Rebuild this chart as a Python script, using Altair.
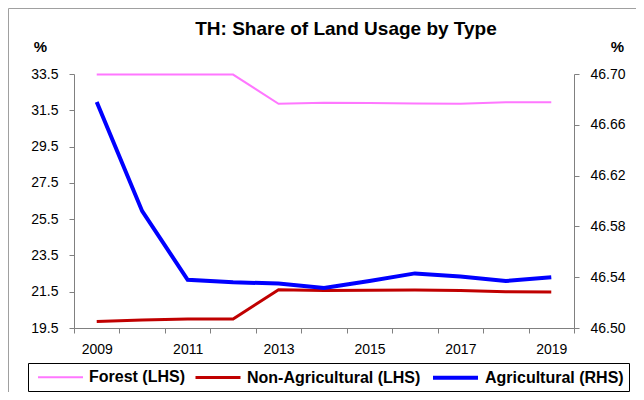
import altair as alt
import pandas as pd

years = list(range(2009, 2020))
forest = [33.47, 33.47, 33.47, 33.47, 31.86, 31.91, 31.90, 31.88, 31.86, 31.94, 31.94]
non_ag = [19.86, 19.94, 20.00, 20.00, 21.61, 21.57, 21.58, 21.59, 21.57, 21.50, 21.48]
agri = [46.678, 46.592, 46.538, 46.536, 46.535, 46.5315, 46.537, 46.543, 46.5405, 46.537, 46.540]

series_names = ["Forest (LHS)", "Non-Agricultural (LHS)", "Agricultural (RHS)"]
colors = ["#FF77FF", "#C00000", "#0000FF"]
widths = [2, 4, 6]
left_ticks = [19.5, 21.5, 23.5, 25.5, 27.5, 29.5, 31.5, 33.5]
right_ticks = [46.50, 46.54, 46.58, 46.62, 46.66, 46.70]
title_text = "TH: Share of Land Usage by Type"

left_df = pd.DataFrame({
    "year": years * 2,
    "value": forest + non_ag,
    "series": [series_names[0]] * len(years) + [series_names[1]] * len(years),
})
right_df = pd.DataFrame({"year": years, "value": agri, "series": [series_names[2]] * len(years)})

FONT = "Liberation Sans"

x_enc = alt.X(
    "year:O",
    scale=alt.Scale(type="band", paddingInner=0, paddingOuter=0),
    bandPosition=0.5,
    axis=alt.Axis(
        title=None, tickBand="extent", labelAngle=0, labelPadding=9,
        labelExpr="datum.value % 2 == 1 ? datum.label : ''",
    ),
)

legend = alt.Legend(
    title=None, orient="none", legendX=-46, legendY=289, direction="horizontal",
    strokeColor="black", fillColor="white", padding=5, cornerRadius=0,
    symbolType="M-3,0H3", symbolSize=225, symbolOffset=19, labelFont=FONT,
    labelFontWeight="bold", labelFontSize=16, labelOffset=20, columnPadding=4,
    labelLimit=400, labelColor="black",
)
color_enc = alt.Color("series:N", scale=alt.Scale(domain=series_names, range=colors), legend=legend)
sw_enc = alt.StrokeWidth("series:N", scale=alt.Scale(domain=series_names, range=widths), legend=legend)

left = alt.Chart(left_df).mark_line().encode(
    x=x_enc,
    y=alt.Y("value:Q", scale=alt.Scale(domain=[19.5, 33.5], nice=False, zero=False),
            axis=alt.Axis(orient="left", values=left_ticks, format=".1f", title="%",
                          titleAngle=0, titleX=-34, titleY=-28, titleAlign="center",
                          titleBaseline="middle", titleFontSize=15, titleFontWeight="bold",
                          titleFont=FONT, labelPadding=11)),
    color=color_enc,
    strokeWidth=sw_enc,
)

right = alt.Chart(right_df).mark_line().encode(
    x=x_enc,
    y=alt.Y("value:Q", scale=alt.Scale(domain=[46.5, 46.7], nice=False, zero=False),
            axis=alt.Axis(orient="right", values=right_ticks, format=".2f", title="%",
                          titleAngle=0, titleX=43, titleY=-28, titleAlign="center",
                          titleBaseline="middle", titleFontSize=15, titleFontWeight="bold",
                          titleFont=FONT, labelPadding=11)),
    color=color_enc,
    strokeWidth=sw_enc,
)

one = pd.DataFrame({"a": [0]})
border = alt.Chart(one).mark_rect(
    fillOpacity=0, stroke="#A0A0A0", strokeWidth=1
).encode(x=alt.value(-65.5), x2=alt.value(620), y=alt.value(-65.5), y2=alt.value(360))

title = alt.Chart(one).mark_text(
    text=title_text, font=FONT, fontSize=19, fontWeight="bold", color="black",
    align="center", baseline="alphabetic",
).encode(x=alt.value(272), y=alt.value(-39))

chart = alt.layer(border, title, left, right).resolve_scale(y="independent").properties(
    width=500, height=254,
    autosize=alt.AutoSizeParams(type="none"),
    padding={"left": 66, "top": 66, "right": 62, "bottom": 64},
).configure_axis(
    grid=False, domainColor="#808080", tickColor="#808080", tickSize=5,
    labelColor="black", labelFont=FONT, labelFontSize=14,
).configure_view(strokeWidth=0)

chart.save("out.html", embed_options={"renderer": "svg", "actions": False})
